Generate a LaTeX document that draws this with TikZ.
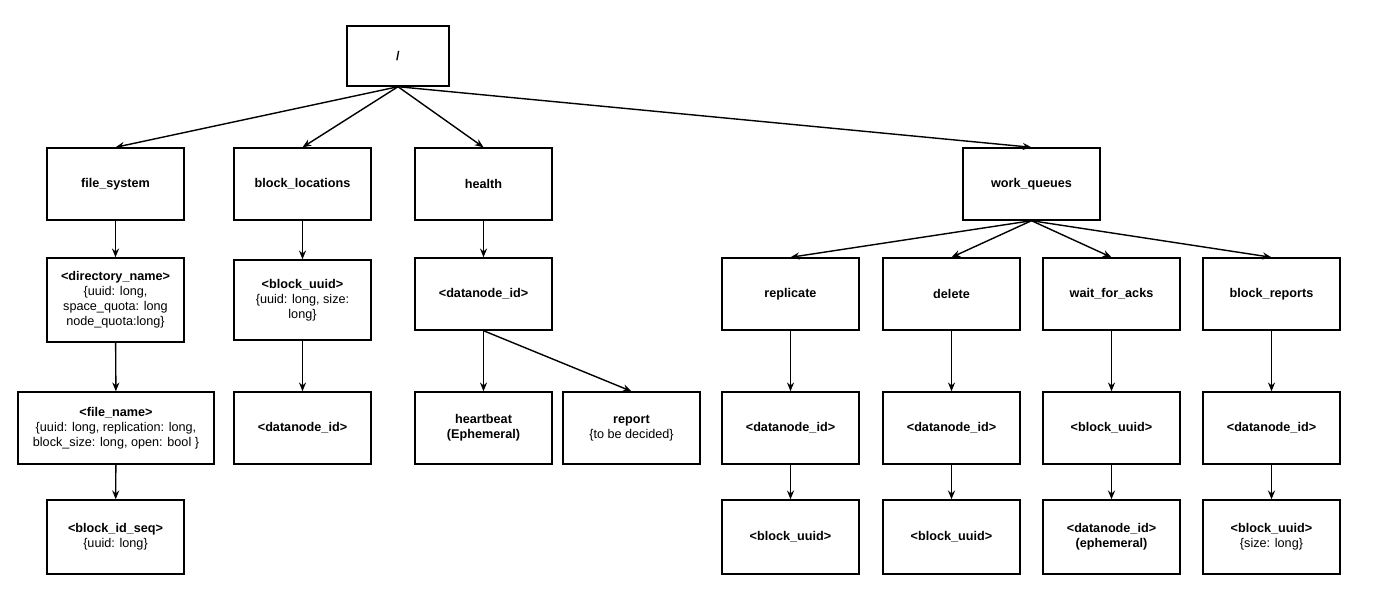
\documentclass[tikz,border=0pt]{standalone}
\usepackage{fontspec}
\setmainfont{Liberation Sans}
\usetikzlibrary{arrows.meta}
\tikzset{
    box/.style={draw, thick, align=center, minimum width=2.74cm, minimum height=1.44cm, inner sep=1pt, font=\fontsize{7.2}{8.6}\selectfont},
    link/.style={-{Stealth[length=5pt, width=4pt]}, thick}
}
\begin{document}
\begin{tikzpicture}[x=0.02cm, y=-0.02cm]
        \useasboundingbox (0, 0) rectangle (1392, 608);

        % top level
        \node[box, minimum width=2.04cm, minimum height=1.2cm] (root) at (398, 56) {\textbf{/}};
        \node[box] (fs) at (115.5, 184) {\textbf{file\_system}};
        \node[box] (bl) at (302.5, 184) {\textbf{block\_locations}};
        \node[box] (hl) at (483.5, 184) {\textbf{health}};
        \node[box] (wq) at (1031.5, 184) {\textbf{work\_queues}};

        % file_system branch
        \node[box, minimum height=1.68cm] (dir) at (115.5, 300) {\textbf{<directory\_name>}\\\{uuid: long,\\space\_quota: long\\node\_quota:long\}};
        \node[box, minimum width=3.92cm] (fn) at (116, 428) {\textbf{<file\_name>}\\\{uuid: long, replication: long,\\block\_size: long, open: bool \}};
        \node[box, minimum height=1.48cm] (seq) at (115.5, 537) {\textbf{<block\_id\_seq>}\\\{uuid: long\}};

        % block_locations branch
        \node[box, minimum height=1.6cm] (bu) at (302.5, 300) {\textbf{<block\_uuid>}\\\{uuid: long, size:\\long\}};
        \node[box] (bldn) at (302.5, 428) {\textbf{<datanode\_id>}};

        % health branch
        \node[box] (hdn) at (483.5, 294) {\textbf{<datanode\_id>}};
        \node[box] (hb) at (483.5, 428) {\textbf{heartbeat}\\\textbf{(Ephemeral)}};
        \node[box] (rp) at (631.5, 428) {\textbf{report}\\\{to be decided\}};

        % work_queues branch
        \node[box] (rep) at (790.5, 294) {\textbf{replicate}};
        \node[box] (del) at (951.5, 294) {\textbf{delete}};
        \node[box] (wfa) at (1111.5, 294) {\textbf{wait\_for\_acks}};
        \node[box] (brp) at (1271.5, 294) {\textbf{block\_reports}};
        \node[box] (repdn) at (790.5, 428) {\textbf{<datanode\_id>}};
        \node[box] (deldn) at (951.5, 428) {\textbf{<datanode\_id>}};
        \node[box] (wfabu) at (1111.5, 428) {\textbf{<block\_uuid>}};
        \node[box] (brpdn) at (1271.5, 428) {\textbf{<datanode\_id>}};
        \node[box, minimum height=1.48cm] (repbu) at (790.5, 537) {\textbf{<block\_uuid>}};
        \node[box, minimum height=1.48cm] (delbu) at (951.5, 537) {\textbf{<block\_uuid>}};
        \node[box, minimum height=1.48cm] (wfadn) at (1111.5, 537) {\textbf{<datanode\_id>}\\\textbf{(ephemeral)}};
        \node[box, minimum height=1.48cm] (brpbu) at (1271.5, 537) {\textbf{<block\_uuid>}\\\{size: long\}};

        % connectors
        \foreach \c in {fs, bl, hl, wq}
            \draw[link] (root.south) -- (\c.north);
        \foreach \c in {rep, del, wfa, brp}
            \draw[link] (wq.south) -- (\c.north);
        \draw[link] (hdn.south) -- (hb.north);
        \draw[link] (hdn.south) -- (rp.north);
        \foreach \a/\b in {fs/dir, dir/fn, fn/seq, bl/bu, bu/bldn, hl/hdn, rep/repdn, repdn/repbu, del/deldn, deldn/delbu, wfa/wfabu, wfabu/wfadn, brp/brpdn, brpdn/brpbu}
            \draw[link] (\a) -- (\b);

    \end{tikzpicture}
\end{document}
